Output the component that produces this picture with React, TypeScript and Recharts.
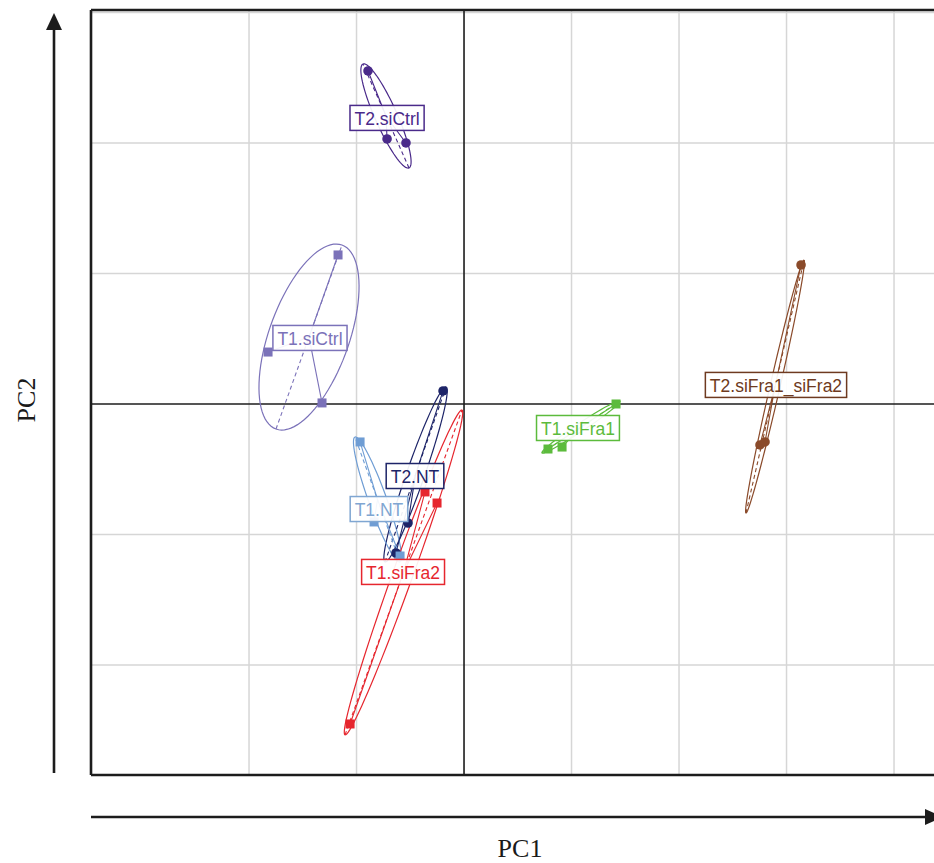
import React from 'react';
import { ScatterChart, Scatter, XAxis, YAxis, ReferenceLine } from 'recharts';

// ---- axis domains (PC units) ----
const X_MIN = -3.47;
const X_MAX = 4.6;
const Y_MIN = -2.843;
const Y_MAX = 3.019;

// ---- groups ----
const groupNames = ['T2.siCtrl', 'T1.siCtrl', 'T2.NT', 'T1.NT', 'T1.siFra2', 'T1.siFra1', 'T2.siFra1_siFra2'];

// ---- sample scores (PC1, PC2) ----
const scoresT2siCtrl = [{ x: -0.893, y: 2.552 }, { x: -0.716, y: 2.031 }, { x: -0.54, y: 2.0 }];
const scoresT1siCtrl = [{ x: -1.172, y: 1.142 }, { x: -1.823, y: 0.398 }, { x: -1.321, y: 0.008 }];
const scoresT2NT = [{ x: -0.195, y: 0.1 }, { x: -0.521, y: -0.912 }, { x: -0.633, y: -1.142 }];
const scoresT1NT = [{ x: -0.967, y: -0.291 }, { x: -0.837, y: -0.904 }, { x: -0.595, y: -1.165 }];
const scoresT1siFra2 = [{ x: -1.06, y: -2.452 }, { x: -0.363, y: -0.674 }, { x: -0.251, y: -0.759 }];
const scoresT1siFra1 = [{ x: 1.414, y: 0.0 }, { x: 0.912, y: -0.33 }, { x: 0.781, y: -0.345 }];
const scoresT2siFra = [{ x: 3.135, y: 1.065 }, { x: 2.753, y: -0.314 }, { x: 2.8, y: -0.291 }];

// ---- confidence ellipses: centre, major semi-axis vector, minor semi-axis vector (PC units) ----
const ellipseT2siCtrl = { cx: -0.726, cy: 2.207, ax: -0.214, ay: 0.398, bx: 0.094, by: 0.034 };
const ellipseT1siCtrl = { cx: -1.442, cy: 0.513, ax: 0.307, ay: 0.705, bx: 0.35, by: -0.104 };
const ellipseT2NT = { cx: -0.451, cy: -0.54, ax: 0.284, ay: 0.671, bx: 0.079, by: -0.023 };
const ellipseT1NT = { cx: -0.805, cy: -0.732, ax: -0.209, ay: 0.479, bx: 0.079, by: 0.023 };
const ellipseT1siFra2 = { cx: -0.563, cy: -1.291, ax: 0.544, ay: 1.245, bx: 0.088, by: -0.026 };
const ellipseT1siFra1 = { cx: 1.088, cy: -0.176, ax: 0.363, ay: 0.199, bx: 0.021, by: -0.026 };
const ellipseT2siFra = { cx: 2.893, cy: 0.134, ax: 0.27, ay: 0.969, bx: 0.045, by: -0.009 };

// ---- group label anchor positions (PC units) ----
const labelX = [-0.716, -1.433, -0.456, -0.791, -0.567, 1.06, 2.902];
const labelY = [2.192, 0.506, -0.552, -0.805, -1.287, -0.184, 0.146];

// ---- grid ticks ----
const gridX = [-2, -1, 1, 2, 3, 4];
const gridY = [-2, -1, 1, 2, 3];

// ---- styles ----
const groupColors = ['#4a2a8a', '#7b72b9', '#1d2468', '#6f9dd4', '#e6262e', '#5cbb3c', '#8a4a2a'];
const labelColors = ['#4a2a8a', '#7b72b9', '#1d2468', '#7fa6d2', '#e6262e', '#5cbb3c', '#6e3a20'];
const groupMarkers = ['circle', 'square', 'circle', 'square', 'square', 'square', 'circle'];

const scoresList = [scoresT2siCtrl, scoresT1siCtrl, scoresT2NT, scoresT1NT, scoresT1siFra2, scoresT1siFra1, scoresT2siFra];
const ellipseList = [ellipseT2siCtrl, ellipseT1siCtrl, ellipseT2NT, ellipseT1NT, ellipseT1siFra2, ellipseT1siFra1, ellipseT2siFra];

const PX_PER_X = 107.5;
const PX_PER_Y = 130.5;
const CHART_W = 990;
const CHART_H = 863;
const M_LEFT = 91;
const M_TOP = 10;
const PLOT_W = (X_MAX - X_MIN) * PX_PER_X;
const PLOT_H = (Y_MAX - Y_MIN) * PX_PER_Y;

type E = { cx: number; cy: number; ax: number; ay: number; bx: number; by: number };

function ellipseOutline(e: E) {
  const pts: { x: number; y: number }[] = [];
  const n = 90;
  for (let i = 0; i <= n; i++) {
    const t = (i / n) * Math.PI * 2;
    pts.push({
      x: e.cx + e.ax * Math.cos(t) + e.bx * Math.sin(t),
      y: e.cy + e.ay * Math.cos(t) + e.by * Math.sin(t),
    });
  }
  return pts;
}

function starPath(e: E, pts: { x: number; y: number }[]) {
  const c = { x: e.cx, y: e.cy };
  const out: { x: number; y: number }[] = [];
  pts.forEach((p, i) => {
    if (i > 0) out.push(c);
    else out.push(p);
    if (i > 0) out.push(p);
    else out.push(c);
  });
  return out;
}

function majorAxis(e: E) {
  return [
    { x: e.cx - e.ax, y: e.cy - e.ay },
    { x: e.cx + e.ax, y: e.cy + e.ay },
  ];
}

let measureCtx: CanvasRenderingContext2D | null = null;
function textWidth(s: string, font: string) {
  if (typeof document === 'undefined') return s.length * 9;
  if (!measureCtx) measureCtx = document.createElement('canvas').getContext('2d');
  if (!measureCtx) return s.length * 9;
  measureCtx.font = font;
  return measureCtx.measureText(s).width;
}

const LABEL_FONT_SIZE = 17.5;
const LABEL_FONT = '"Liberation Sans", Arial, sans-serif';

const noShape = () => <g />;

const makeMarker = (color: string, kind: string) => (props: any) => {
  const { cx, cy } = props;
  if (cx == null || cy == null) return <g />;
  if (kind === 'square') {
    return <rect x={cx - 4.5} y={cy - 4.5} width={9} height={9} fill={color} />;
  }
  return <circle cx={cx} cy={cy} r={4.8} fill={color} />;
};

const makeLabel = (color: string) => (props: any) => {
  const { cx, cy, payload } = props;
  if (cx == null || cy == null) return <g />;
  const txt = payload.name as string;
  const w = textWidth(txt, `${LABEL_FONT_SIZE}px ${LABEL_FONT}`) + 9;
  const h = 25;
  return (
    <g>
      <rect x={cx - w / 2} y={cy - h / 2} width={w} height={h} fill="#ffffff" fillOpacity={0.92} stroke={color} strokeWidth={1.5} />
      <text
        x={cx}
        y={cy + 1}
        textAnchor="middle"
        dominantBaseline="central"
        fill={color}
        fontSize={LABEL_FONT_SIZE}
        fontFamily={LABEL_FONT}
      >
        {txt}
      </text>
    </g>
  );
};

export default function App() {
  const marginRight = CHART_W - M_LEFT - PLOT_W;
  const marginBottom = CHART_H - M_TOP - PLOT_H;
  const frame = '#1c1c1c';
  const gridColor = '#d6d6d6';

  return (
    <div style={{ position: 'fixed', left: 0, top: 0, width: 934, height: 863, overflow: 'hidden', background: '#fff' }}>
      <ScatterChart
        width={CHART_W}
        height={CHART_H}
        margin={{ top: M_TOP, left: M_LEFT, right: marginRight, bottom: marginBottom }}
      >
        <XAxis type="number" dataKey="x" domain={[X_MIN, X_MAX]} allowDataOverflow hide />
        <YAxis type="number" dataKey="y" domain={[Y_MIN, Y_MAX]} allowDataOverflow hide />

        {gridX.map((v) => (
          <ReferenceLine key={'gx' + v} x={v} stroke={gridColor} strokeWidth={1.5} />
        ))}
        {gridY.map((v) => (
          <ReferenceLine key={'gy' + v} y={v} stroke={gridColor} strokeWidth={1.5} />
        ))}
        <ReferenceLine x={0} stroke={frame} strokeWidth={1.6} />
        <ReferenceLine y={0} stroke={frame} strokeWidth={1.6} />
        <ReferenceLine x={X_MIN} stroke={frame} strokeWidth={2.6} />
        <ReferenceLine y={Y_MAX} stroke={frame} strokeWidth={2.6} />
        <ReferenceLine y={Y_MIN} stroke={frame} strokeWidth={2.6} />

        {ellipseList.map((e, i) => (
          <Scatter
            key={'ell' + i}
            data={ellipseOutline(e)}
            fill={groupColors[i]}
            stroke={groupColors[i]}
            line={{ stroke: groupColors[i], strokeWidth: 1.2, fill: 'none' }}
            shape={noShape}
            isAnimationActive={false}
            legendType="none"
          />
        ))}
        {ellipseList.map((e, i) => (
          <Scatter
            key={'ax' + i}
            data={majorAxis(e)}
            fill={groupColors[i]}
            stroke={groupColors[i]}
            line={{ stroke: groupColors[i], strokeWidth: 1.1, strokeDasharray: '4 3', fill: 'none' }}
            shape={noShape}
            isAnimationActive={false}
            legendType="none"
          />
        ))}
        {ellipseList.map((e, i) => (
          <Scatter
            key={'star' + i}
            data={starPath(e, scoresList[i])}
            fill={groupColors[i]}
            stroke={groupColors[i]}
            line={{ stroke: groupColors[i], strokeWidth: 1.1, fill: 'none' }}
            shape={noShape}
            isAnimationActive={false}
            legendType="none"
          />
        ))}
        {scoresList.map((pts, i) => (
          <Scatter
            key={'pts' + i}
            name={groupNames[i]}
            data={pts}
            fill={groupColors[i]}
            shape={makeMarker(groupColors[i], groupMarkers[i])}
            isAnimationActive={false}
            legendType="none"
          />
        ))}
        {groupNames.map((g, i) => (
          <Scatter
            key={'lab' + i}
            data={[{ x: labelX[i], y: labelY[i], name: g }]}
            fill={labelColors[i]}
            shape={makeLabel(labelColors[i])}
            isAnimationActive={false}
            legendType="none"
          />
        ))}
      </ScatterChart>

      <svg
        width={934}
        height={863}
        style={{ position: 'absolute', left: 0, top: 0, pointerEvents: 'none' }}
      >
        <line x1={54} y1={773} x2={54} y2={26} stroke={frame} strokeWidth={2.6} />
        <polygon points="54,13 46,30 62,30" fill={frame} />
        <line x1={91} y1={817} x2={928} y2={817} stroke={frame} strokeWidth={2.6} />
        <polygon points="943,817 925,809 925,825" fill={frame} />
        <text
          x={520}
          y={848}
          textAnchor="middle"
          dominantBaseline="central"
          fontFamily='"Liberation Serif", "Times New Roman", serif'
          fontSize={26}
          fill="#1a1a1a"
        >
          PC1
        </text>
        <text
          transform="translate(26,400) rotate(-90)"
          x={0}
          y={0}
          textAnchor="middle"
          dominantBaseline="central"
          fontFamily='"Liberation Serif", "Times New Roman", serif'
          fontSize={26}
          fill="#1a1a1a"
        >
          PC2
        </text>
      </svg>
    </div>
  );
}
